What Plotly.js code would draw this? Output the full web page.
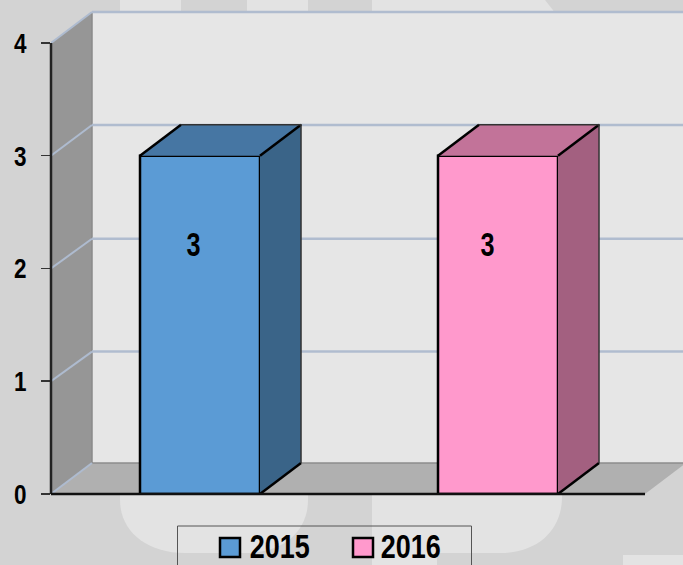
<!DOCTYPE html>
<html><head><meta charset="utf-8">
<script src="https://cdn.plot.ly/plotly-3.0.1.min.js"></script>
<style>html,body{margin:0;padding:0;background:#d3d3d3;overflow:hidden}#c{width:683px;height:565px}</style>
</head><body><div id="c"></div>
<script>
// ---- data
const series = ['2015', '2016'];
const values = [3, 3];
const yTicks = [0, 1, 2, 3, 4];
const yTickLabels = ['0', '1', '2', '3', '4'];
const gridValues = [0, 1, 2, 3, 4];
const gridDepths = [0.275, 0.263, 0.264, 0.273, 0.275];
const frontColors = ['#5b9bd5', '#ff99cc'];
const topColors = ['#4676a3', '#c27399'];
const sideColors = ['#3a6488', '#a36080'];

// ---- geometry of the pseudo-3D look
const W = 683, H = 565, mL = 51, mB = 71;
const xRange = [-0.5, 1.6208], yRange = [0, 4.381];
const barW = 0.4027, depthX = 0.1376, depthY = 0.275, xEnd = 1.4933;
const labelShifts = [-7, -11];
const FONT = '"Liberation Sans",sans-serif';

const px = x => (x - mL) / (W - mL);
const py = y => (H - mB - y) / (H - mB);
const paperPath = pts => 'M' + pts.map(p => px(p[0]) + ',' + py(p[1])).join('L') + 'Z';
const dataPath = pts => 'M' + pts.map(p => p[0] + ',' + p[1]).join('L') + 'Z';
const yPaper = v => (v - yRange[0]) / (yRange[1] - yRange[0]);
const xPaper = v => (v - xRange[0]) / (xRange[1] - xRange[0]);

const shapes = [];
const paperShape = (path, color) => shapes.push({type: 'path', xref: 'paper', yref: 'paper', path, fillcolor: color, line: {width: 0}, layer: 'below'});
const LIGHT = '#e3e3e3';
// faint watermark behind the chart
[[120, 181], [247, 308]].forEach(r => paperShape(paperPath([[r[0], 0], [r[1], 0], [r[1], 14], [r[0], 14]]), LIGHT));
paperShape(paperPath([[372, 0], [545, 0], [556, 14], [372, 14]]), LIGHT);
const bez = (c1, c2, b) => 'C' + px(c1[0]) + ',' + py(c1[1]) + ' ' + px(c2[0]) + ',' + py(c2[1]) + ' ' + px(b[0]) + ',' + py(b[1]);
paperShape('M' + px(120) + ',' + py(490) + 'L' + px(308) + ',' + py(490) + 'L' + px(308) + ',' + py(500) +
  bez([308, 530], [285, 553], [245, 553]) + 'L' + px(185) + ',' + py(553) + bez([145, 553], [120, 530], [120, 500]) + 'Z', LIGHT);
paperShape('M' + px(372) + ',' + py(490) + 'L' + px(562) + ',' + py(490) + 'L' + px(562) + ',' + py(497) +
  bez([562, 530], [538, 553], [500, 553]) + 'L' + px(437) + ',' + py(553) + 'L' + px(437) + ',' + py(565) + 'L' + px(372) + ',' + py(565) + 'Z', LIGHT);
paperShape(paperPath([[623, 555], [683, 555], [683, 565], [623, 565]]), LIGHT);

// walls and floor
const x0 = xRange[0], yTop = 4;
const xB = x0 + depthX;
const dataShape = (pts, color) => shapes.push({type: 'path', xref: 'x', yref: 'y', path: dataPath(pts), fillcolor: color, line: {width: 0}, layer: 'below'});
dataShape([[xB, depthY], [xRange[1], depthY], [xRange[1], yTop + depthY], [xB, yTop + depthY]], '#e6e6e6');
dataShape([[x0, 0], [xB, depthY], [xB, yTop + depthY], [x0, yTop]], '#969696');
dataShape([[x0, 0], [xB, depthY], [xEnd + depthX, depthY], [xEnd, 0]], '#b0b0b0');
shapes.push({type: 'line', xref: 'x', yref: 'y', x0: xB, x1: xRange[1], y0: depthY, y1: depthY, line: {color: '#8c8c8c', width: 1.5}, layer: 'below'});
shapes.push({type: 'line', xref: 'x', yref: 'y', x0: xB, x1: xB, y0: depthY, y1: yTop + depthY, line: {color: '#8a8a8a', width: 1.5}, layer: 'below'});

// gridlines along the left wall and the back wall
gridValues.forEach((v, k) => {
  const d = gridDepths[k];
  shapes.push({type: 'line', xref: 'x', yref: 'y', x0, x1: xB, y0: v, y1: v + d, line: {color: '#aebbcf', width: 2}, layer: 'below'});
  if (v > 0) shapes.push({type: 'line', xref: 'x', yref: 'y', x0: xB, x1: xRange[1], y0: v + d, y1: v + d, line: {color: '#b0bccf', width: 2.5}, layer: 'below'});
});
// axis lines
shapes.push({type: 'line', xref: 'paper', yref: 'paper', x0: 0, x1: 0, y0: yPaper(0), y1: yPaper(4), line: {color: '#222', width: 2.5}, layer: 'above'});
shapes.push({type: 'line', xref: 'paper', yref: 'paper', x0: xPaper(x0), x1: xPaper(xEnd), y0: 0, y1: 0, line: {color: '#111', width: 2.5}, layer: 'above'});

// ---- traces
const traces = [];
series.forEach((name, i) => {
  const v = values[i], L = i - barW / 2, R = i + barW / 2;
  traces.push({type: 'scatter', mode: 'none', x: [L, L + depthX, R + depthX, R, L], y: [v, v + depthY, v + depthY, v, v], fill: 'toself', fillcolor: topColors[i], hoverinfo: 'skip', showlegend: false, cliponaxis: false});
  traces.push({type: 'scatter', mode: 'none', x: [R, R + depthX, R + depthX, R, R], y: [v, v + depthY, depthY, 0, v], fill: 'toself', fillcolor: sideColors[i], hoverinfo: 'skip', showlegend: false, cliponaxis: false});
  traces.push({type: 'scatter', mode: 'lines', x: [L, L + depthX, null, R, R + depthX, null, R, R + depthX], y: [v, v + depthY, null, v, v + depthY, null, 0, depthY], line: {color: '#000', width: 2.5}, hoverinfo: 'skip', showlegend: false, cliponaxis: false});
  traces.push({type: 'scatter', mode: 'lines', x: [L + depthX, R + depthX, R + depthX], y: [v + depthY, v + depthY, depthY], line: {color: '#333', width: 1.5}, hoverinfo: 'skip', showlegend: false, cliponaxis: false});
  traces.push({type: 'bar', name, x: [i], y: [v], width: barW, marker: {color: frontColors[i], line: {color: '#000', width: 2.5}}, showlegend: false, cliponaxis: false});
});

// ---- annotations: value labels and legend text
const annotations = series.map((name, i) => ({
  xref: 'x', yref: 'y', x: i, y: values[i], text: String(values[i]), showarrow: false,
  xshift: labelShifts[i], yshift: -88, font: {family: FONT, size: 34, color: '#000', weight: 'bold'}
}));
const legendX = [[219, 241, 280], [352, 374, 411]];
shapes.push({type: 'rect', xref: 'paper', yref: 'paper', x0: px(177.5), x1: px(471.5), y0: py(526), y1: py(590), line: {color: '#555', width: 1}, fillcolor: 'rgba(0,0,0,0)', layer: 'above'});
series.forEach((name, i) => {
  const g = legendX[i];
  shapes.push({type: 'rect', xref: 'paper', yref: 'paper', x0: px(g[0] + 1), x1: px(g[1] - 1), y0: py(538), y1: py(557), fillcolor: frontColors[i], line: {color: '#000', width: 2.5}, layer: 'above'});
  annotations.push({xref: 'paper', yref: 'paper', x: px(g[2]), y: py(546), xanchor: 'center', yanchor: 'middle', text: name, showarrow: false, font: {family: FONT, size: 34, color: '#000', weight: 'bold'}});
});

Plotly.newPlot('c', traces, {
  width: W, height: H,
  margin: {l: mL, r: 0, t: 0, b: mB, pad: 0, autoexpand: false},
  paper_bgcolor: '#d3d3d3', plot_bgcolor: 'rgba(0,0,0,0)',
  barmode: 'overlay', showlegend: false,
  xaxis: {range: xRange, showgrid: false, zeroline: false, showticklabels: false, ticks: '', showline: false, fixedrange: true},
  yaxis: {range: yRange, tickmode: 'array', tickvals: yTicks, ticktext: yTickLabels, showgrid: false, zeroline: false, showline: false,
    ticks: 'outside', ticklen: 9, tickwidth: 1.5, tickcolor: '#333', ticklabelstandoff: 9, fixedrange: true,
    tickfont: {family: FONT, size: 28, color: '#000', weight: 'bold'}},
  shapes, annotations
}, {displayModeBar: false, staticPlot: true}).then(gd => {
  // the reference uses a condensed face: compress the real text to its advance width
  const squeeze = (t, w) => { t.setAttribute('textLength', w); t.setAttribute('lengthAdjust', 'spacingAndGlyphs'); };
  gd.querySelectorAll('.ytick text').forEach(t => squeeze(t, 12.5));
  gd.querySelectorAll('.annotation-text').forEach(t => squeeze(t, t.textContent.length > 1 ? 60 : 14));
});
</script></body></html>
